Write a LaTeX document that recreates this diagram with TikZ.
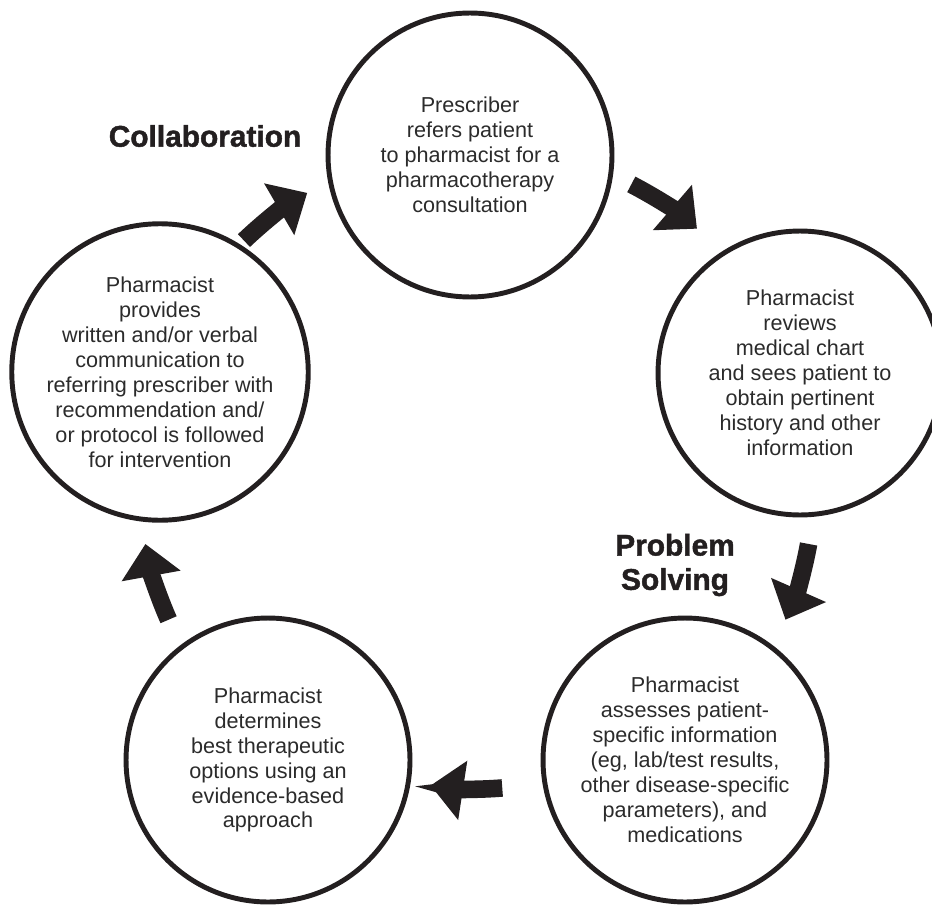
\documentclass[tikz,border=0pt]{standalone}
\usepackage{fontspec}
\setmainfont{Liberation Sans}
\newfontfamily\headfont[FakeBold=1.5]{Liberation Sans Bold}
\usetikzlibrary{arrows.meta}
\definecolor{ink}{HTML}{231F20}
\definecolor{copy}{HTML}{2B2B2B}

\begin{document}
\begin{tikzpicture}[
    x=0.02cm, y=0.02cm,
    stage/.style={circle, draw=ink, line width=2.8pt, minimum size=5.68cm, inner sep=0pt, align=center, text=copy, font=\fontsize{12.3}{14.2}\selectfont},
    phase/.style={align=center, text=ink, font=\headfont\fontsize{17}{19.5}\selectfont},
    flow/.style={draw=ink, line width=10pt, -{Triangle[length=18.5pt, width=33pt]}}
]
\useasboundingbox (0,0) rectangle (932,904);

% Five stages of the cycle
\node[stage] (refer) at (470,749) {Prescriber\\refers patient\\to pharmacist for a\\pharmacotherapy\\consultation};
\node[stage] (review) at (800,531) {Pharmacist\\reviews\\medical chart\\and sees patient to\\obtain pertinent\\history and other\\information};
\node[stage] (assess) at (685,144) {Pharmacist\\assesses patient-\\specific information\\(eg, lab/test results,\\other disease-specific\\parameters), and\\medications};
\node[stage] (decide) at (268,144) {Pharmacist\\determines\\best therapeutic\\options using an\\evidence-based\\approach};
\node[stage] (report) at (160,532) {Pharmacist\\provides\\written and/or verbal\\communication to\\referring prescriber with\\recommendation and/\\or protocol is followed\\for intervention};

% Phase labels
\node[phase] (collab) at (205,768) {Collaboration};
\node[phase] (solve) at (675,339) {Problem\\Solving};

% Curved arrows between the stages
\coordinate (hub) at (477,420);
\foreach \mid/\rad in {127/337, 56/337, -17/337, -92/305, -163/337}{
  \draw[flow] ([shift={(\mid+6.75:\rad)}]hub) arc[start angle=\mid+6.75, end angle=\mid-6.75, radius=\rad];
}

\end{tikzpicture}
\end{document}
